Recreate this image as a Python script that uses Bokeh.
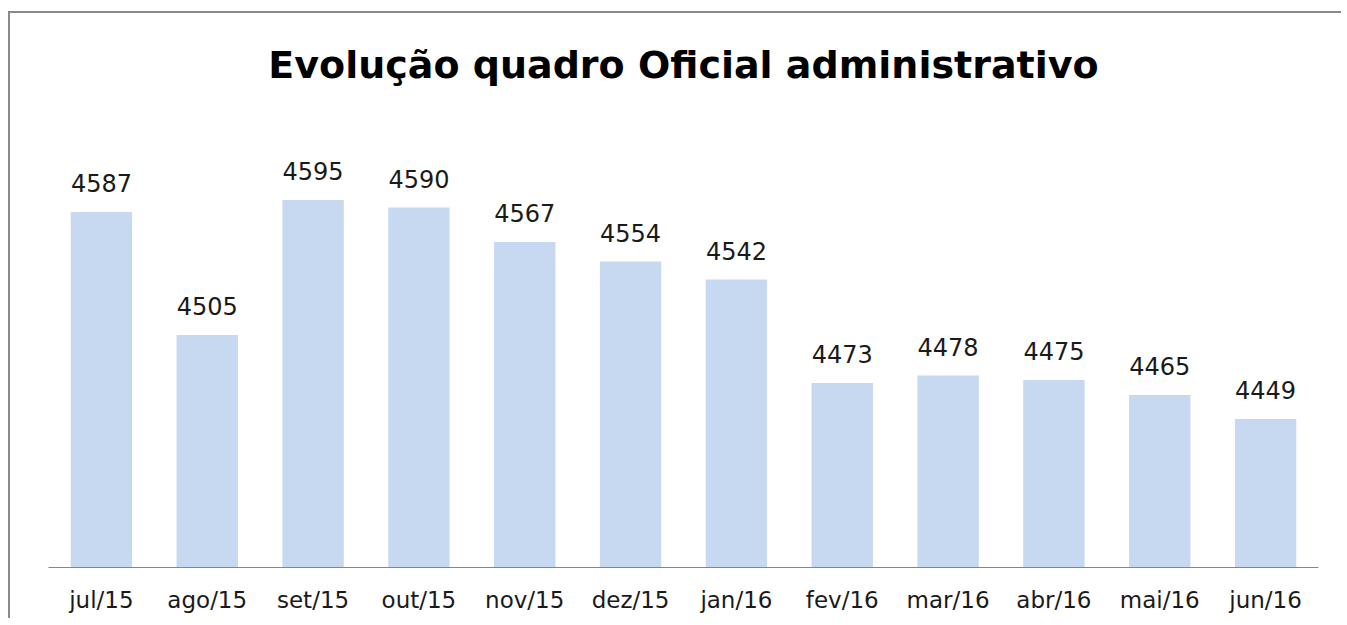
from bokeh.plotting import figure
from bokeh.models import ColumnDataSource, Range1d, Title
from bokeh.core.properties import value
from bokeh.embed import file_html
from bokeh.resources import INLINE

months = ["jul/15", "ago/15", "set/15", "out/15", "nov/15", "dez/15",
          "jan/16", "fev/16", "mar/16", "abr/16", "mai/16", "jun/16"]
counts = [4587, 4505, 4595, 4590, 4567, 4554, 4542, 4473, 4478, 4475, 4465, 4449]
labels = [str(v) for v in counts]

y_min, y_max = 4350, 4650
FONT = "DejaVu Sans"

src = ColumnDataSource(data=dict(m=months, v=counts, lab=labels))

p = figure(x_range=months, y_range=Range1d(y_min, y_max),
           width=1333, height=607, output_backend="svg", toolbar_location=None,
           min_border_left=38, min_border_right=25, min_border_top=104, min_border_bottom=53)
p.margin = (11, 0, 0, 8)
p.styles = {"border-left": "2px solid #898989", "border-top": "2px solid #898989"}

p.title = Title(text="Evolução quadro Oficial administrativo", align="center",
                text_font=FONT, text_font_size="38px", text_font_style="bold",
                text_color="#000000", standoff=57, vertical_align="top")

p.vbar(x="m", top="v", bottom=y_min, width=0.58, source=src,
       fill_color="#C6D9F0", line_color=None)

p.text(x="m", y="v", text="lab", source=src, text_align="center",
       text_baseline="alphabetic", y_offset=-29,
       text_font=value(FONT), text_font_size="24px", text_color="#1a1a1a")

p.outline_line_color = None
p.grid.visible = False
p.yaxis.visible = False
ax = p.xaxis[0]
ax.axis_line_color = "#868686"
ax.axis_line_width = 1
ax.major_tick_line_color = None
ax.minor_tick_line_color = None
ax.major_label_text_font = FONT
ax.major_label_text_font_size = "23px"
ax.major_label_text_color = "#1a1a1a"
ax.major_label_standoff = 13
p.x_range.range_padding = 0

open("out.html", "w").write(file_html(p, INLINE))
